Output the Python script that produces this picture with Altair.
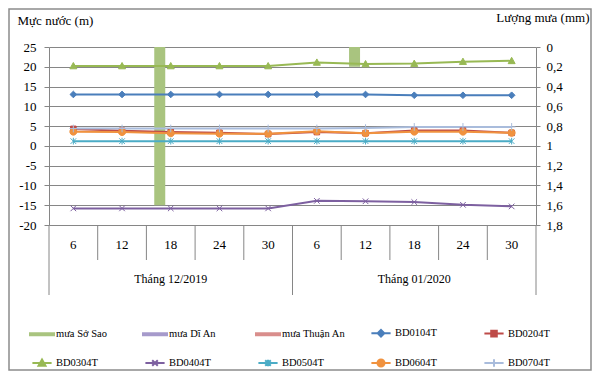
import altair as alt
import pandas as pd

# ---------------- data ----------------
cats = ["12-06", "12-12", "12-18", "12-24", "12-30",
        "01-06", "01-12", "01-18", "01-24", "01-30"]
month_cats = ["12-18", "01-18"]
month_labels = ["Tháng 12/2019", "Tháng 01/2020"]

rain_series = ["mưa Sở Sao", "mưa Dĩ An", "mưa Thuận An"]
rain_so_sao = [0, 0, 1.6, 0, 0, 0, 0.2, 0, 0, 0]
rain_di_an = [0, 0, 0, 0, 0, 0, 0, 0, 0, 0]
rain_thuan_an = [0, 0, 0, 0, 0, 0, 0, 0, 0, 0]

line_series = ["BD0104T", "BD0204T", "BD0304T", "BD0404T",
               "BD0504T", "BD0604T", "BD0704T"]
bd0104 = [13.0, 13.0, 13.0, 13.0, 13.0, 13.0, 13.0, 12.8, 12.8, 12.8]
bd0204 = [4.3, 3.8, 3.5, 3.3, 3.0, 3.5, 3.2, 3.9, 3.9, 3.3]
bd0304 = [20.2, 20.2, 20.2, 20.2, 20.2, 21.1, 20.7, 20.8, 21.3, 21.5]
bd0404 = [-15.8, -15.8, -15.8, -15.8, -15.8, -13.9, -14.0, -14.2, -14.9, -15.3]
bd0504 = [1.2, 1.2, 1.2, 1.2, 1.2, 1.2, 1.2, 1.2, 1.2, 1.2]
bd0604 = [3.6, 3.5, 3.2, 3.1, 3.1, 3.7, 3.2, 3.6, 3.6, 3.3]
bd0704 = [4.4, 4.4, 4.4, 4.4, 4.4, 4.4, 4.5, 4.8, 4.8, 4.8]

left_ticks = [-20, -15, -10, -5, 0, 5, 10, 15, 20, 25]
right_ticks = [0, 0.2, 0.4, 0.6, 0.8, 1.0, 1.2, 1.4, 1.6, 1.8]

# ---------------- styles ----------------
rain_colors = ["#A9C47F", "#A69ACB", "#D98E8C"]
line_colors = ["#4A7EBB", "#BE4B48", "#98B954", "#7D60A0",
               "#4BACC6", "#F0923F", "#A9BCDC"]
GRID = "#868686"
FONT = "Liberation Serif"


def diamond(s): return f"M0,{-s}L{s},0L0,{s}L{-s},0Z"
def square(s): return f"M{-s},{-s}H{s}V{s}H{-s}Z"
def triangle(s): return f"M0,{-s}L{s},{0.8*s}H{-s}Z"
def xmark(s): return f"M{-s},{-s}L{s},{s}M{-s},{s}L{s},{-s}"
def aster(s): return xmark(s) + f"M0,{-1.2*s}V{1.2*s}"
def circ(s): return f"M{-s},0A{s},{s},0,1,0,{s},0A{s},{s},0,1,0,{-s},0Z"
def plus(s): return f"M{-1.1*s},0H{1.1*s}M0,{-1.1*s}V{1.1*s}"


marker_fns = [diamond, square, triangle, xmark, aster, circ, plus]
marker_scale = [0.95, 0.8, 1.0, 0.8, 0.8, 1.0, 1.0]
plot_shapes = [f(k) for f, k in zip(marker_fns, marker_scale)]

LEG_R = 12.0  # legend symbol half size (size = (2r)^2)
legend_shapes = {}
for s, f, k in zip(line_series, marker_fns, marker_scale):
    legend_shapes[s] = "M-0.8,0H0.8" + f(round(3.5 * k / LEG_R, 3))
for s in rain_series:
    legend_shapes[s] = "M-1,-0.09H1V0.09H-1Z"

expr = "'circle'"
for s in reversed(rain_series + line_series):
    expr = f"datum.value === '{s}' ? '{legend_shapes[s]}' : ({expr})"

# ---------------- tables ----------------
rain_df = pd.DataFrame({
    "cat": cats * 3,
    "series": [rain_series[0]] * 10 + [rain_series[1]] * 10 + [rain_series[2]] * 10,
    "value": rain_so_sao + rain_di_an + rain_thuan_an,
})
line_vals = [bd0104, bd0204, bd0304, bd0404, bd0504, bd0604, bd0704]
line_df = pd.DataFrame({
    "cat": cats * len(line_series),
    "series": [s for s in line_series for _ in cats],
    "value": [v for vals in line_vals for v in vals],
})
short_div = pd.DataFrame({"cat": [c for i, c in enumerate(cats) if i not in (0, 5)]})
long_div = pd.DataFrame({"cat": [cats[0], cats[5]]})
end_div = pd.DataFrame({"cat": [cats[-1]]})
month_df = pd.DataFrame({"cat": month_cats, "label": month_labels})

all_series = rain_series + line_series
color_scale = alt.Scale(domain=all_series, range=rain_colors + line_colors)

legend = alt.Legend(
    title=None, orient="none", legendX=-20, legendY=273, columns=5,
    direction="horizontal",
    gridAlign="all", columnPadding=19, rowPadding=9, padding=0,
    symbolSize=int((2 * LEG_R) ** 2), labelOffset=1,
    labelFont=FONT, labelFontSize=10.5, labelColor="black",
    symbolType={"expr": expr},
    symbolFillColor={"expr": "scale('color', datum.value)"},
    symbolStrokeColor={"expr": "scale('color', datum.value)"},
    symbolStrokeWidth=2, symbolOpacity=1,
)

x_scale = alt.Scale(domain=cats, paddingInner=0, paddingOuter=0)
x_axis = alt.Axis(title=None, ticks=False, tickSize=0, labelPadding=19,
                  labelBaseline="middle", labelAngle=0,
                  labelExpr="toNumber(slice(datum.value, 3)) + ''",
                  labelFont=FONT, labelFontSize=13, labelColor="black",
                  domainColor=GRID, grid=False)
x_enc = alt.X("cat:N", scale=x_scale, axis=x_axis, sort=cats)

left_axis = alt.Axis(
    values=left_ticks, grid=True, gridColor=GRID, domainColor=GRID,
    tickColor=GRID, tickSize=5, labelPadding=8, labelExpr="datum.value + ''",
    labelFont=FONT, labelFontSize=13, labelColor="black",
    title="Mực nước (m)", titleAngle=0, titleX=-32, titleY=-23,
    titleAlign="left", titleBaseline="alphabetic", titleFont=FONT,
    titleFontSize=13, titleFontWeight="normal", titleColor="black")
right_axis = alt.Axis(
    orient="right", values=right_ticks, grid=False, domainColor=GRID,
    tickColor=GRID, tickSize=4, labelPadding=6,
    labelExpr="replace(format(datum.value, '.1~f'), '.', ',')",
    labelFont=FONT, labelFontSize=13, labelColor="black",
    title="Lượng mưa (mm)", titleAngle=0, titleX=53, titleY=-26,
    titleAlign="right", titleBaseline="alphabetic", titleFont=FONT,
    titleFontSize=13, titleFontWeight="normal", titleColor="black")

bars = alt.Chart(rain_df).mark_bar().encode(
    x=x_enc,
    xOffset=alt.XOffset("series:N", sort=rain_series,
                        scale=alt.Scale(domain=rain_series, paddingInner=0,
                                        paddingOuter=0.714)),
    y=alt.Y("value:Q", scale=alt.Scale(domain=[0, 1.8], reverse=True, nice=False),
            axis=right_axis),
    color=alt.Color("series:N", scale=color_scale, legend=legend),
)

y_left = alt.Y("value:Q", scale=alt.Scale(domain=[-20, 25], nice=False), axis=left_axis)
lines = alt.Chart(line_df).mark_line(strokeWidth=2).encode(
    x=x_enc, y=y_left,
    color=alt.Color("series:N", scale=color_scale, legend=legend),
    detail="series:N",
)
points = alt.Chart(line_df).mark_point(filled=True, size=49, strokeWidth=1,
                                       opacity=1).encode(
    x=x_enc, y=y_left,
    color=alt.Color("series:N", scale=color_scale, legend=legend),
    stroke=alt.Stroke("series:N", scale=alt.Scale(domain=line_series, range=line_colors),
                      legend=None),
    shape=alt.Shape("series:N", scale=alt.Scale(domain=line_series, range=plot_shapes),
                    legend=None),
)
water = alt.layer(lines, points)

rules_short = alt.Chart(short_div).mark_rule(color=GRID, strokeWidth=1).encode(
    x=alt.X("cat:N", scale=x_scale, axis=x_axis, sort=cats, bandPosition=0),
    y=alt.value(178), y2=alt.value(213))
rules_long = alt.Chart(long_div).mark_rule(color=GRID, strokeWidth=1).encode(
    x=alt.X("cat:N", scale=x_scale, axis=x_axis, sort=cats, bandPosition=0),
    y=alt.value(178), y2=alt.value(248))
rules_end = alt.Chart(end_div).mark_rule(color=GRID, strokeWidth=1).encode(
    x=alt.X("cat:N", scale=x_scale, axis=x_axis, sort=cats, bandPosition=1),
    y=alt.value(178), y2=alt.value(248))
months = alt.Chart(month_df).mark_text(font=FONT, fontSize=12, color="black",
                                       baseline="middle").encode(
    x=alt.X("cat:N", scale=x_scale, axis=x_axis, sort=cats),
    y=alt.value(232), text="label:N")

frame = alt.Chart(pd.DataFrame({"k": [0]})).mark_rect(
    fill=None, stroke="#8C8C8C", strokeWidth=1.5).encode(
    x=alt.value(-40), x2=alt.value(542), y=alt.value(-38), y2=alt.value(323))

chart = alt.layer(
    frame, bars, rules_short, rules_long, rules_end, months, water
).resolve_scale(y="independent").properties(
    width=487, height=178, background="white",
    padding={"left": 41, "top": 39, "right": 56, "bottom": 146},
    autosize=alt.AutoSizeParams(type="none"),
).configure_view(stroke=None).configure_axis(
    labelFont=FONT, titleFont=FONT, titleFontWeight="normal",
    labelFontSize=13, titleFontSize=13, labelColor="black", titleColor="black",
).configure_legend(
    labelFont=FONT, labelFontSize=10.5, labelColor="black",
).configure_text(font=FONT)

chart.save("out.html", embed_options={"renderer": "svg", "actions": False})
